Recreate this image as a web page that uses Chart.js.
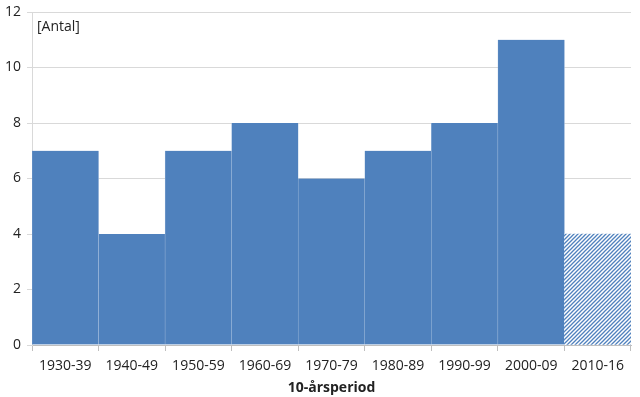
<!DOCTYPE html>
<html>
<head>
<meta charset="utf-8">
<script src="https://cdn.jsdelivr.net/npm/chart.js@4/dist/chart.umd.min.js"></script>
<style>
html,body{margin:0;padding:0;background:#fff;}
#wrap{width:640px;height:397px;position:relative;}
</style>
</head>
<body>
<div id="wrap"><canvas id="c" width="640" height="397"></canvas></div>
<script>
const categories = ["1930-39","1940-49","1950-59","1960-69","1970-79","1980-89","1990-99","2000-09","2010-16"];
const values = [7,4,7,8,6,7,8,11,4];
const hatched = [false,false,false,false,false,false,false,false,true];
const yTicks = [0,2,4,6,8,10,12];
const unitLabel = "[Antal]";
const xTitle = "10-årsperiod";

const blue = "#4F81BD";
function makeHatch(){
  const s = 4;
  const p = document.createElement("canvas");
  p.width = s; p.height = s;
  const g = p.getContext("2d");
  g.fillStyle = "#fff"; g.fillRect(0,0,s,s);
  g.strokeStyle = blue; g.lineWidth = 1.3;
  g.beginPath();
  g.moveTo(0,s); g.lineTo(s,0);
  g.moveTo(-1,1); g.lineTo(1,-1);
  g.moveTo(s-1,s+1); g.lineTo(s+1,s-1);
  g.stroke();
  return g.createPattern(p,"repeat");
}
const hatch = makeHatch();
const font = "'Open Sans', 'Liberation Sans', sans-serif";

const labelPlugin = {
  id:"unitLabel",
  afterDraw(chart){
    const {ctx, chartArea} = chart;
    ctx.save();
    ctx.font = "14px " + font;
    ctx.fillStyle = "#222";
    ctx.textBaseline = "middle";
    ctx.fillText(unitLabel, chartArea.left + 5, 27);
    ctx.restore();
  }
};

new Chart(document.getElementById("c"), {
  type:"bar",
  data:{
    labels: categories,
    datasets:[{
      data: values,
      backgroundColor: hatched.map(h => h ? hatch : blue),
      borderColor: hatched.map(h => h ? "rgba(79,129,189,0.5)" : "#A9C1DF"),
      borderWidth: hatched.map(h => h ? 0 : {left:0.5,right:0.5,top:0,bottom:0}),
      categoryPercentage:1,
      barPercentage:1
    }]
  },
  options:{
    responsive:false,
    animation:false,
    devicePixelRatio:1,
    layout:{padding:{top:12,right:9,left:0,bottom:0}},
    plugins:{legend:{display:false},tooltip:{enabled:false}},
    scales:{
      x:{
        offset:true,
        afterFit(s){ s.height = 52; },
        grid:{offset:true,drawOnChartArea:false,color:"#BFBFBF",tickLength:6},
        border:{color:"#BFBFBF"},
        ticks:{color:"#222",font:{family:font,size:14},padding:7,maxRotation:0},
        title:{display:true,text:xTitle,color:"#222",font:{family:font,size:14,weight:"bold"},padding:{top:3,bottom:1}}
      },
      y:{
        min:0,max:12,
        afterFit(s){ s.width = 32; s.paddingTop = 0; s.paddingBottom = 0; },
        afterBuildTicks(s){ s.ticks = yTicks.map(v=>({value:v})); },
        grid:{color:"#D9D9D9",tickLength:5},
        border:{color:"#D9D9D9"},
        ticks:{color:"#222",font:{family:font,size:14},padding:6}
      }
    }
  },
  plugins:[labelPlugin]
});
</script>
</body>
</html>
